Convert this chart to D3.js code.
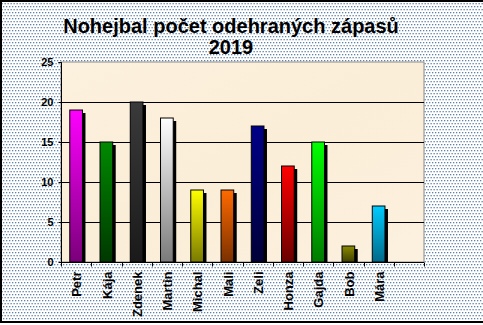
<!DOCTYPE html>
<html>
<head>
<meta charset="utf-8">
<script src="https://cdn.jsdelivr.net/npm/d3@7"></script>
<style>
  html, body { margin: 0; padding: 0; background: #fff; }
  svg { display: block; }
  text { font-family: "Liberation Sans", Arial, sans-serif; font-weight: bold; fill: #000; }
</style>
</head>
<body>
<script>
// Players and number of matches played in 2019
const players = ["Petr", "Kája", "Zdenek", "Martin", "Michal", "Mali", "Zeli", "Honza", "Gajda", "Bob", "Mára", ""];
const matches = [19, 15, 20, 18, 9, 9, 17, 12, 15, 2, 7, null];
// Bar colours: light top, dark bottom
const topColors = ["#ff00ff", "#008a00", "#3a3a3a", "#ffffff", "#ffff00", "#ff6a00", "#000088", "#ff0000", "#00ff00", "#8a8a00", "#00ccff", "#ffffff"];
const bottomColors = ["#7a007a", "#003800", "#1a1a1a", "#7a7a7a", "#7a7a00", "#7a3000", "#000038", "#6a0000", "#007a00", "#404000", "#006a8a", "#ffffff"];
const yTicks = [0, 5, 10, 15, 20, 25];
const titleLines = ["Nohejbal počet odehraných zápasů", "2019"];

const W = 483, H = 325;
const margin = { left: 61, right: 59, top: 62, bottom: 63 };

const svg = d3.select("body").append("svg").attr("width", W).attr("height", H);
const defs = svg.append("defs");

// dotted blue-grey chart area fill
const pat = defs.append("pattern").attr("id", "dots")
  .attr("patternUnits", "userSpaceOnUse").attr("width", 3).attr("height", 6);
pat.append("rect").attr("width", 3).attr("height", 6).attr("fill", "#ffffff");
pat.append("rect").attr("x", 0).attr("y", 0).attr("width", 1.3).attr("height", 1.3).attr("fill", "#5f82a6");
pat.append("rect").attr("x", 1.5).attr("y", 3).attr("width", 1.3).attr("height", 1.3).attr("fill", "#5f82a6");

svg.append("rect").attr("x", 0).attr("y", 0).attr("width", W).attr("height", 323).attr("fill", "url(#dots)");
// outer frame
svg.append("path").attr("d", `M${W + 5},1 H1 V322 H${W + 5}`)
  .attr("fill", "none").attr("stroke", "#000").attr("stroke-width", 2);

const x = d3.scaleBand().domain(d3.range(players.length))
  .range([margin.left, W - margin.right]).paddingInner(0).paddingOuter(0);
const y = d3.scaleLinear().domain([0, 25]).range([H - margin.bottom, margin.top]);

const plotX = margin.left, plotY = margin.top;
const plotW = W - margin.right - margin.left, plotH = H - margin.bottom - margin.top;

// parchment plot area
const bg = defs.append("linearGradient").attr("id", "paper").attr("x1", 0).attr("y1", 0).attr("x2", 1).attr("y2", 1);
bg.append("stop").attr("offset", "0%").attr("stop-color", "#fcf1de");
bg.append("stop").attr("offset", "50%").attr("stop-color", "#fbeed8");
bg.append("stop").attr("offset", "100%").attr("stop-color", "#fcf1df");
svg.append("rect").attr("x", plotX).attr("y", plotY).attr("width", plotW).attr("height", plotH)
  .attr("fill", "url(#paper)").attr("stroke", "#8a8a8a").attr("stroke-width", 1);

// gridlines
svg.append("g").selectAll("line").data(yTicks.filter(d => d > 0 && d < 25)).join("line")
  .attr("x1", plotX).attr("x2", plotX + plotW)
  .attr("y1", d => Math.round(y(d)) + 0.5).attr("y2", d => Math.round(y(d)) + 0.5)
  .attr("stroke", "#000").attr("stroke-width", 1);

// bar gradients
players.forEach((p, i) => {
  const g = defs.append("linearGradient").attr("id", "bar" + i).attr("x1", 0).attr("y1", 0).attr("x2", 0).attr("y2", 1);
  g.append("stop").attr("offset", "0%").attr("stop-color", topColors[i]);
  g.append("stop").attr("offset", "100%").attr("stop-color", bottomColors[i]);
});

defs.append("clipPath").attr("id", "plotClip").append("rect")
  .attr("x", plotX).attr("y", plotY - 5).attr("width", plotW).attr("height", plotH + 5);

const barW = x.bandwidth() * 0.42;
const data = players.map((p, i) => ({ i, p, v: matches[i] })).filter(d => d.v != null);

// drop shadows
svg.append("g").attr("clip-path", "url(#plotClip)").selectAll("rect").data(data).join("rect")
  .attr("x", d => x(d.i) + (x.bandwidth() - barW) / 2 + 3)
  .attr("y", d => y(d.v) + 3)
  .attr("width", barW)
  .attr("height", d => y(0) - y(d.v))
  .attr("fill", "#000");

// bars
svg.append("g").selectAll("rect").data(data).join("rect")
  .attr("x", d => x(d.i) + (x.bandwidth() - barW) / 2)
  .attr("y", d => y(d.v))
  .attr("width", barW)
  .attr("height", d => y(0) - y(d.v))
  .attr("fill", d => `url(#bar${d.i})`)
  .attr("stroke", "#000").attr("stroke-width", 1);

// y axis
const yAxis = svg.append("g").attr("transform", `translate(${plotX + 0.5},0)`)
  .call(d3.axisLeft(y).tickValues(yTicks).tickSize(3).tickPadding(5).tickFormat(d3.format("d")));
yAxis.select(".domain").attr("stroke", "#000").attr("d", `M-3,${y(25) + 0.5}H0V${y(0) + 0.5}`);
yAxis.selectAll(".tick line").attr("stroke", "#000");
yAxis.selectAll(".tick text").attr("font-size", 11).attr("font-family", "Liberation Sans, Arial, sans-serif")
  .attr("font-weight", "bold").attr("fill", "#000");

// x axis with ticks at category boundaries
const xg = svg.append("g").attr("transform", `translate(0,${Math.round(y(0)) + 0.5})`);
xg.append("line").attr("x1", plotX).attr("x2", plotX + plotW).attr("stroke", "#000");
xg.selectAll("line.tk").data(d3.range(players.length + 1)).join("line").attr("class", "tk")
  .attr("x1", i => Math.round(plotX + i * x.step()) + 0.5)
  .attr("x2", i => Math.round(plotX + i * x.step()) + 0.5)
  .attr("y1", 0).attr("y2", 4).attr("stroke", "#000");
xg.selectAll("text").data(players.map((p, i) => ({ p, i }))).join("text")
  .attr("transform", d => `translate(${x(d.i) + x.bandwidth() / 2 + 0.5},9) rotate(-90)`)
  .attr("text-anchor", "end").attr("dy", "0.36em")
  .attr("font-size", 13)
  .text(d => d.p);

// title
svg.append("g").selectAll("text").data(titleLines).join("text")
  .attr("x", 231).attr("y", (d, i) => 33 + i * 20.5)
  .attr("text-anchor", "middle").attr("font-size", 20).attr("fill", "#111")
  .text(d => d);
</script>
</body>
</html>
